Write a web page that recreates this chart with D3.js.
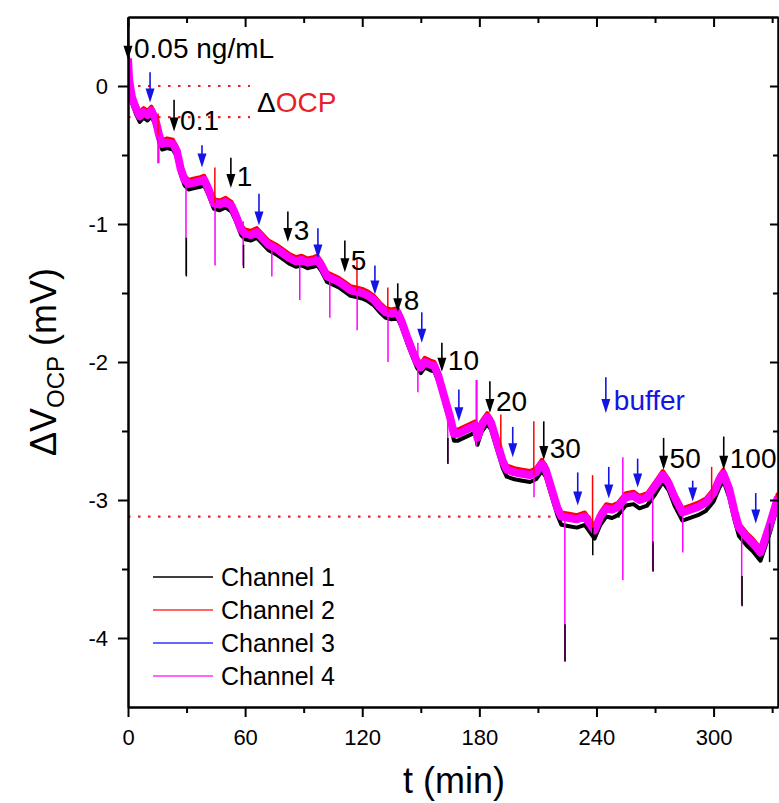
<!DOCTYPE html>
<html><head><meta charset="utf-8">
<script src="https://cdn.jsdelivr.net/npm/d3@7"></script>
<style>body{margin:0;background:#fff}svg{display:block}text{font-family:"Liberation Sans",Arial,sans-serif}</style>
</head><body><svg id="c" width="779" height="803"></svg>
<script>
// ---- data ----
const time = [0,0.6,2,4,6,8,10,12,14,16,
17.5,20,23,25,27,29,31,34,37,39,
41,44,47,50,53,55,58,60,63,66,
68,72,76,80,83,86,89,92,95,97,
99,102,105,108,111,114,117,120,123,126,
129,132,135,138,140,143,146,148,150,152,
155,157,159,162,165,167,169,172,175,178,
179,181,184,186,189,192,194,198,202,206,
209,212,214,217,220,222,226,230,234,237,
239,242,245,248,251,255,259,262,266,270,
274,277,280,284,288,292,296,300,303,305,
308,311,313,317,320,324,326,329,333];
const channel1 = [0.16,0.00,-0.12,-0.20,-0.26,-0.23,-0.25,-0.22,-0.28,-0.40,
-0.46,-0.45,-0.46,-0.51,-0.64,-0.72,-0.75,-0.74,-0.73,-0.72,
-0.78,-0.89,-0.90,-0.88,-0.91,-0.97,-1.08,-1.11,-1.12,-1.10,
-1.13,-1.19,-1.22,-1.26,-1.29,-1.31,-1.30,-1.32,-1.31,-1.30,
-1.34,-1.42,-1.44,-1.46,-1.49,-1.52,-1.53,-1.54,-1.56,-1.59,
-1.64,-1.68,-1.69,-1.68,-1.74,-1.86,-1.97,-2.04,-2.08,-2.04,
-2.06,-2.07,-2.14,-2.29,-2.44,-2.57,-2.57,-2.55,-2.53,-2.51,
-2.60,-2.51,-2.45,-2.49,-2.63,-2.77,-2.83,-2.85,-2.86,-2.87,
-2.85,-2.79,-2.83,-2.97,-3.11,-3.18,-3.19,-3.20,-3.18,-3.24,
-3.28,-3.18,-3.12,-3.13,-3.11,-3.04,-3.03,-3.06,-3.04,-2.96,
-2.87,-2.93,-3.04,-3.15,-3.13,-3.11,-3.08,-3.01,-2.91,-2.86,
-2.98,-3.16,-3.26,-3.33,-3.37,-3.44,-3.36,-3.23,-3.03];
const channel2 = [0.22,0.07,-0.05,-0.13,-0.19,-0.16,-0.18,-0.15,-0.21,-0.33,
-0.39,-0.38,-0.39,-0.44,-0.57,-0.65,-0.68,-0.67,-0.66,-0.65,
-0.71,-0.82,-0.83,-0.81,-0.84,-0.90,-1.01,-1.04,-1.05,-1.03,
-1.06,-1.12,-1.15,-1.19,-1.22,-1.24,-1.23,-1.25,-1.24,-1.23,
-1.27,-1.35,-1.37,-1.39,-1.42,-1.45,-1.46,-1.47,-1.49,-1.52,
-1.57,-1.61,-1.62,-1.61,-1.67,-1.79,-1.90,-1.97,-2.01,-1.97,
-1.99,-2.00,-2.07,-2.22,-2.37,-2.49,-2.49,-2.47,-2.45,-2.43,
-2.52,-2.43,-2.37,-2.41,-2.55,-2.69,-2.75,-2.77,-2.78,-2.79,
-2.77,-2.71,-2.75,-2.89,-3.03,-3.09,-3.10,-3.11,-3.09,-3.15,
-3.19,-3.09,-3.03,-3.04,-3.02,-2.95,-2.94,-2.97,-2.95,-2.87,
-2.79,-2.85,-2.95,-3.06,-3.04,-3.02,-2.99,-2.92,-2.82,-2.78,
-2.89,-3.07,-3.17,-3.24,-3.28,-3.35,-3.27,-3.14,-2.95];
const channel3 = [0.19,0.03,-0.09,-0.17,-0.23,-0.20,-0.22,-0.19,-0.25,-0.37,
-0.43,-0.42,-0.43,-0.48,-0.61,-0.69,-0.72,-0.71,-0.70,-0.69,
-0.75,-0.86,-0.87,-0.85,-0.88,-0.94,-1.05,-1.08,-1.09,-1.07,
-1.10,-1.16,-1.19,-1.23,-1.26,-1.28,-1.27,-1.29,-1.28,-1.27,
-1.31,-1.39,-1.41,-1.43,-1.46,-1.49,-1.50,-1.51,-1.53,-1.56,
-1.61,-1.65,-1.66,-1.65,-1.71,-1.83,-1.94,-2.01,-2.05,-2.01,
-2.03,-2.04,-2.11,-2.26,-2.41,-2.53,-2.53,-2.51,-2.49,-2.47,
-2.56,-2.47,-2.41,-2.45,-2.59,-2.73,-2.79,-2.81,-2.82,-2.83,
-2.81,-2.75,-2.79,-2.93,-3.07,-3.13,-3.14,-3.15,-3.13,-3.19,
-3.23,-3.13,-3.07,-3.08,-3.06,-2.99,-2.98,-3.01,-2.99,-2.91,
-2.83,-2.89,-2.99,-3.10,-3.08,-3.06,-3.03,-2.96,-2.86,-2.82,
-2.93,-3.11,-3.21,-3.28,-3.32,-3.39,-3.31,-3.18,-2.99];
const channel4 = [0.20,0.04,-0.08,-0.16,-0.22,-0.19,-0.21,-0.18,-0.24,-0.36,
-0.42,-0.41,-0.42,-0.47,-0.60,-0.68,-0.71,-0.70,-0.69,-0.68,
-0.74,-0.85,-0.86,-0.84,-0.87,-0.93,-1.04,-1.07,-1.08,-1.06,
-1.09,-1.15,-1.18,-1.22,-1.25,-1.27,-1.26,-1.28,-1.27,-1.26,
-1.30,-1.38,-1.40,-1.42,-1.45,-1.48,-1.49,-1.50,-1.52,-1.55,
-1.60,-1.64,-1.65,-1.64,-1.70,-1.82,-1.93,-2.00,-2.04,-2.00,
-2.02,-2.03,-2.10,-2.25,-2.40,-2.52,-2.52,-2.50,-2.48,-2.46,
-2.55,-2.46,-2.40,-2.44,-2.58,-2.72,-2.78,-2.80,-2.81,-2.82,
-2.80,-2.74,-2.78,-2.92,-3.06,-3.12,-3.13,-3.14,-3.12,-3.18,
-3.22,-3.12,-3.06,-3.07,-3.05,-2.98,-2.97,-3.00,-2.98,-2.90,
-2.82,-2.88,-2.98,-3.09,-3.07,-3.05,-3.02,-2.95,-2.85,-2.81,
-2.92,-3.10,-3.20,-3.27,-3.31,-3.38,-3.30,-3.17,-2.98];

// injection spikes: time, start value, end value, channel index
const spikeTime = [15.4,15.8,29.7,29.9,44.5,44.6,59.0,59.2,73.7,88.0,103.4,117.3,117.4,133.1,133.2,148.5,163.8,163.9,178.7,178.4,191.0,207.9,208.0,223.8,223.9,238.0,238.1,253.5,268.8,269.0,284.2,299.0,314.4,314.6,328.7];
const spikeFrom = [-0.20,-0.36,-0.66,-1.10,-0.59,-0.85,-0.98,-1.15,-1.15,-1.27,-1.38,-1.25,-1.49,-1.46,-1.64,-1.86,-2.30,-2.55,-2.13,-2.13,-2.38,-2.43,-2.82,-3.12,-3.90,-2.82,-3.20,-2.69,-2.92,-3.30,-3.09,-2.76,-3.22,-3.55,-3.17];
const spikeTo   = [-0.56,-0.56,-1.37,-1.38,-0.85,-1.30,-1.30,-1.32,-1.38,-1.55,-1.68,-1.49,-1.77,-1.64,-2.00,-2.22,-2.73,-2.74,-2.46,-2.61,-2.62,-2.82,-2.98,-4.17,-4.17,-3.20,-3.40,-3.58,-3.51,-3.52,-3.38,-3.00,-3.76,-3.77,-3.45];
const spikeChannel = [1,3,3,0,1,3,3,0,3,3,3,1,3,1,3,3,3,0,1,3,1,1,3,3,0,1,0,3,3,0,3,1,3,0,0];

const channelNames = ["Channel 1","Channel 2","Channel 3","Channel 4"];
const xTicks = [0,60,120,180,240,300];
const xMinor = [30,90,150,210,270,330];
const yTicks = [0,-1,-2,-3,-4];
const yMinor = [-0.5,-1.5,-2.5,-3.5];

const concArrowT = [0,23.6,52.7,81.9,111.1,138.2,160.8,185.4,213.0,274.4,305.2];
const concArrowTop = [0.49,-0.10,-0.52,-0.91,-1.12,-1.43,-1.86,-2.14,-2.43,-2.55,-2.54];
const concArrowTip = [0.19,-0.33,-0.74,-1.13,-1.35,-1.64,-2.07,-2.37,-2.71,-2.78,-2.78];
const concLabels = ["0.05 ng/mL","0.1","1","3","5","8","10","20","30","50","100"];

const bufferArrowT = [11.3,37.9,67.1,97.3,126.5,150.5,169.5,197.1,230.4,246.3,261.1,289.3,321.6];
const bufferArrowTop = [0.10,-0.43,-0.78,-1.03,-1.30,-1.64,-2.20,-2.47,-2.80,-2.76,-2.70,-2.86,-2.95];
const bufferArrowTip = [-0.12,-0.59,-1.01,-1.25,-1.51,-1.86,-2.43,-2.69,-3.04,-2.99,-2.91,-3.01,-3.17];
const bufferKey = {t:244.8, top:-2.11, tip:-2.37, label:"buffer"};

const dotLevels = [0,-0.225,-3.12];
const dotEnds = [62.5,62.5,252];

// ---- drawing ----
const colors = ["#000000","#ff0000","#0000ff","#ff00ff"];
const widths = [4,4,4,8];
const blue = "#1414e6";
const svg = d3.select("#c");
const L=128,R=778,T=17,B=707;
const x = d3.scaleLinear().domain([0,333]).range([L,R]);
const y = d3.scaleLinear().domain([-4.5,0.5]).range([B,T]);

svg.append("defs").append("clipPath").attr("id","clip")
  .append("rect").attr("x",L).attr("y",T).attr("width",R-L).attr("height",B-T);

// dotted reference lines
svg.append("g").selectAll("line").data(dotLevels).join("line")
  .attr("x1",x(0)).attr("x2",(d,i)=>x(dotEnds[i]))
  .attr("y1",d=>y(d)).attr("y2",d=>y(d))
  .attr("stroke","#e8202a").attr("stroke-width",2.2).attr("stroke-dasharray","2.5,7.5");

const plot = svg.append("g").attr("clip-path","url(#clip)");
const chans = [channel1,channel2,channel3,channel4];
const line = d3.line().x(d=>x(d[0])).y(d=>y(d[1]));
chans.forEach((c,i)=>{
  plot.append("path").datum(time.map((t,j)=>[t,c[j]]))
    .attr("d",line).attr("fill","none").attr("stroke",colors[i])
    .attr("stroke-width",widths[i]).attr("stroke-linejoin","round");
});
plot.append("g").selectAll("line").data(spikeTime).join("line")
  .attr("x1",d=>x(d)).attr("x2",d=>x(d))
  .attr("y1",(d,i)=>y(spikeFrom[i])).attr("y2",(d,i)=>y(spikeTo[i]))
  .attr("stroke",(d,i)=>colors[spikeChannel[i]]).attr("stroke-width",1.5);

// arrows
function arrow(g,t,top,tip,color){
  const xx=x(t), y0=y(top), y1=y(tip);
  g.append("line").attr("x1",xx).attr("x2",xx).attr("y1",y0).attr("y2",y1-10)
    .attr("stroke",color).attr("stroke-width",1.6);
  g.append("path").attr("d",`M${xx-4.5},${y1-14}L${xx+4.5},${y1-14}L${xx},${y1}Z`).attr("fill",color);
}
const ann = svg.append("g");
concArrowT.forEach((t,i)=>{
  arrow(ann,t,concArrowTop[i],concArrowTip[i],"#000");
  ann.append("text").attr("x",x(t)+6).attr("y",y(concArrowTip[i])-2)
    .attr("font-size",28).attr("fill","#000").text(concLabels[i]);
});
bufferArrowT.forEach((t,i)=>arrow(ann,t,bufferArrowTop[i],bufferArrowTip[i],blue));
arrow(ann,bufferKey.t,bufferKey.top,bufferKey.tip,blue);
ann.append("text").attr("x",x(bufferKey.t)+8).attr("y",y(bufferKey.tip)-3)
  .attr("font-size",28).attr("fill",blue).text(bufferKey.label);

// ΔOCP label
const dt = ann.append("text").attr("x",257).attr("y",112).attr("font-size",28);
dt.append("tspan").attr("fill","#000").text("Δ");
dt.append("tspan").attr("fill","#e8202a").text("OCP");

// legend
const lg = svg.append("g");
channelNames.forEach((n,i)=>{
  const yy = 577 + i*33;
  lg.append("line").attr("x1",153).attr("x2",213).attr("y1",yy).attr("y2",yy)
    .attr("stroke",colors[i]).attr("stroke-width",1.5).attr("opacity",i===0?1:0.8);
  lg.append("text").attr("x",221).attr("y",yy).attr("dy","0.35em")
    .attr("font-size",25).attr("fill","#000").text(n);
});

// axes
function styleAxis(g){
  g.select(".domain").attr("stroke-width",2);
  g.selectAll(".tick line").attr("stroke-width",2);
  g.selectAll("text").attr("font-size",22).attr("font-family","Liberation Sans, Arial, sans-serif").attr("fill","#000");
}
svg.append("g").attr("transform",`translate(0,${B})`)
  .call(d3.axisBottom(x).tickValues(xTicks).tickSize(10).tickSizeOuter(0).tickPadding(12).tickFormat(d=>String(d))).call(styleAxis);
svg.append("g").attr("transform",`translate(0,${B})`)
  .call(d3.axisBottom(x).tickValues(xMinor).tickSize(6).tickSizeOuter(0).tickFormat("")).call(styleAxis);
svg.append("g").attr("transform",`translate(${L},0)`)
  .call(d3.axisLeft(y).tickValues(yTicks).tickSize(10).tickSizeOuter(0).tickPadding(10).tickFormat(d=>String(d))).call(styleAxis);
svg.append("g").attr("transform",`translate(${L},0)`)
  .call(d3.axisLeft(y).tickValues(yMinor).tickSize(6).tickSizeOuter(0).tickFormat("")).call(styleAxis);
// top and right (inward ticks)
svg.append("g").attr("transform",`translate(0,${T})`)
  .call(d3.axisBottom(x).tickValues(xTicks).tickSize(10).tickSizeOuter(0).tickFormat("")).call(styleAxis);
svg.append("g").attr("transform",`translate(0,${T})`)
  .call(d3.axisBottom(x).tickValues(xMinor).tickSize(6).tickSizeOuter(0).tickFormat("")).call(styleAxis);
svg.append("g").attr("transform",`translate(${R},0)`)
  .call(d3.axisLeft(y).tickValues(yTicks).tickSize(8).tickSizeOuter(0).tickFormat("")).call(styleAxis);
svg.append("g").attr("transform",`translate(${R},0)`)
  .call(d3.axisLeft(y).tickValues(yMinor).tickSize(5).tickSizeOuter(0).tickFormat("")).call(styleAxis);

// axis titles
svg.append("text").attr("x",454).attr("y",793).attr("text-anchor","middle")
  .attr("font-size",36).attr("fill","#000").text("t (min)");
const yt = svg.append("text").attr("transform",`translate(56,${(T+B)/2}) rotate(-90)`)
  .attr("text-anchor","middle").attr("font-size",36).attr("fill","#000");
yt.append("tspan").text("ΔV");
yt.append("tspan").attr("font-size",24).attr("dy",8).text("OCP");
yt.append("tspan").attr("dy",-8).text(" (mV)");
</script></body></html>
